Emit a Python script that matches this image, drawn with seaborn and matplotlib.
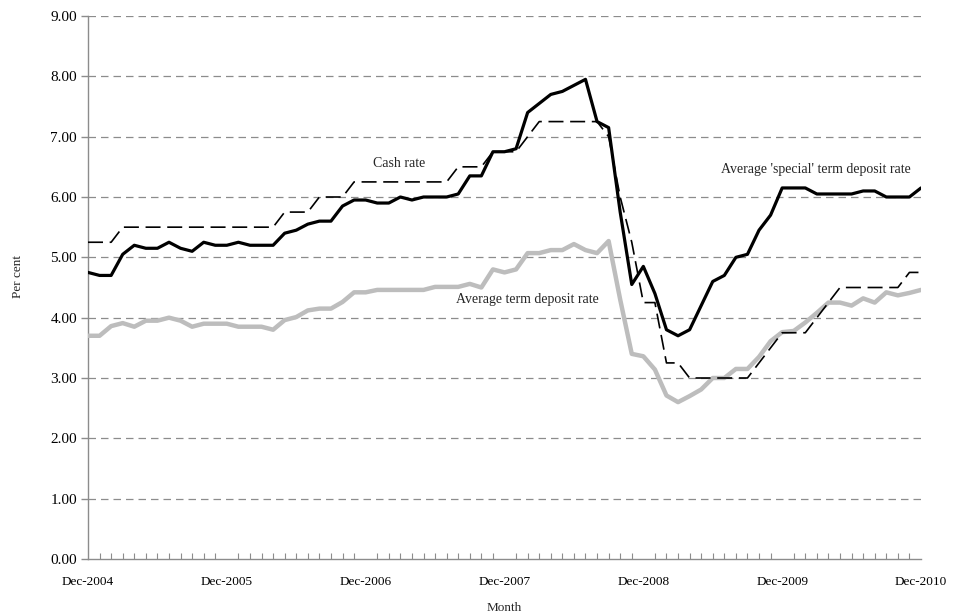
import numpy as np
import pandas as pd
import matplotlib
matplotlib.use("Agg")
import matplotlib.pyplot as plt
import seaborn as sns
from matplotlib.ticker import MultipleLocator, FixedLocator, FuncFormatter

# ---- data (monthly, Dec-2004 .. Dec-2010) ----
tick_labels = ["Dec-2004", "Dec-2005", "Dec-2006", "Dec-2007",
               "Dec-2008", "Dec-2009", "Dec-2010"]

cash_rate = [5.25, 5.25, 5.25,
             5.50, 5.50, 5.50, 5.50, 5.50, 5.50, 5.50, 5.50, 5.50, 5.50, 5.50, 5.50, 5.50, 5.50,
             5.75, 5.75, 5.75,
             6.00, 6.00, 6.00,
             6.25, 6.25, 6.25, 6.25, 6.25, 6.25, 6.25, 6.25, 6.25,
             6.50, 6.50, 6.50,
             6.75, 6.75, 6.75,
             7.00,
             7.25, 7.25, 7.25, 7.25, 7.25, 7.25,
             7.00, 6.00, 5.25, 4.25, 4.25, 3.25, 3.25,
             3.00, 3.00, 3.00, 3.00, 3.00, 3.00,
             3.25, 3.50,
             3.75, 3.75, 3.75,
             4.00, 4.25,
             4.50, 4.50, 4.50, 4.50, 4.50, 4.50,
             4.75, 4.75]

special_td_rate = [4.75, 4.70, 4.70, 5.05, 5.20, 5.15, 5.15, 5.25, 5.15, 5.10,
                   5.25, 5.20, 5.20, 5.25, 5.20, 5.20, 5.20, 5.40, 5.45, 5.55,
                   5.60, 5.60, 5.85, 5.95, 5.95, 5.90, 5.90, 6.00, 5.95, 6.00,
                   6.00, 6.00, 6.05, 6.35, 6.35, 6.75, 6.75, 6.80, 7.40, 7.55,
                   7.70, 7.75, 7.85, 7.95, 7.25, 7.15, 5.75, 4.55, 4.85, 4.40,
                   3.80, 3.70, 3.80, 4.20, 4.60, 4.70, 5.00, 5.05, 5.45, 5.70,
                   6.15, 6.15, 6.15, 6.05, 6.05, 6.05, 6.05, 6.10, 6.10, 6.00,
                   6.00, 6.00, 6.15]

avg_td_rate = [3.70, 3.70, 3.86, 3.91, 3.85, 3.95, 3.95, 4.00, 3.95, 3.85,
               3.90, 3.90, 3.90, 3.85, 3.85, 3.85, 3.80, 3.96, 4.01, 4.12,
               4.15, 4.15, 4.26, 4.42, 4.42, 4.46, 4.46, 4.46, 4.46, 4.46,
               4.51, 4.51, 4.51, 4.56, 4.50, 4.80, 4.75, 4.80, 5.07, 5.07,
               5.12, 5.12, 5.22, 5.12, 5.07, 5.27, 4.30, 3.40, 3.36, 3.14,
               2.71, 2.60, 2.70, 2.81, 3.00, 3.00, 3.15, 3.15, 3.35, 3.61,
               3.76, 3.78, 3.92, 4.08, 4.25, 4.25, 4.20, 4.32, 4.25, 4.42,
               4.37, 4.41, 4.46]

months = list(range(len(cash_rate)))
df = pd.DataFrame({"month": months, "cash": cash_rate,
                   "special": special_td_rate, "avg": avg_td_rate})

# ---- plot ----
sns.set_theme(style="white")
plt.rcParams["font.family"] = ["Liberation Serif", "DejaVu Serif"]

fig = plt.figure(figsize=(9.64, 6.15), dpi=100)
ax = fig.add_axes([88/964, 1 - 559/615, (921 - 88)/964, (559 - 16)/615])

grid_c = "#8c8c8c"
for v in range(1, 10):
    ax.axhline(v, color=grid_c, lw=0.9, ls=(0, (6, 4)), zorder=1)

sns.lineplot(data=df, x="month", y="avg", ax=ax, color="#bdbdbd", lw=3.2, zorder=3)
sns.lineplot(data=df, x="month", y="cash", ax=ax, color="black", lw=1.2,
             ls=(0, (9, 4)), zorder=4)
sns.lineplot(data=df, x="month", y="special", ax=ax, color="black", lw=2.3, zorder=5)

ax.set_xlim(0, 72)
ax.set_ylim(0, 9)

ax.xaxis.set_major_locator(FixedLocator([0, 12, 24, 36, 48, 60, 72]))
ax.set_xticklabels(tick_labels)
ax.xaxis.set_minor_locator(MultipleLocator(1))
ax.yaxis.set_major_locator(MultipleLocator(1))
ax.yaxis.set_major_formatter(FuncFormatter(lambda v, p: f"{v:.2f}"))

for s in ["top", "right"]:
    ax.spines[s].set_visible(False)
for s in ["left", "bottom"]:
    ax.spines[s].set_color(grid_c)
    ax.spines[s].set_linewidth(1.0)

ax.tick_params(axis="x", which="major", direction="inout", length=9, width=1,
               color=grid_c, labelsize=9.5, pad=8, labelcolor="black")
ax.tick_params(axis="x", which="minor", direction="in", length=4, width=0.8,
               color=grid_c, bottom=True)
ax.tick_params(axis="y", which="major", direction="out", length=5, width=1,
               color=grid_c, labelsize=11, pad=3, labelcolor="black", left=True)

ax.set_xlabel("Month", fontsize=9.5, labelpad=10)
ax.set_ylabel("Per cent", fontsize=9.5)
ax.yaxis.set_label_coords(-0.077, 0.52)

ax.text(26.9, 6.55, "Cash rate", fontsize=10, ha="center", va="center", zorder=6)
ax.text(62.9, 6.45, "Average 'special' term deposit rate", fontsize=10,
        ha="center", va="center", zorder=6)
ax.text(38.0, 4.3, "Average term deposit rate", fontsize=10,
        ha="center", va="center", zorder=6)

fig.savefig("out.png", dpi=100)
